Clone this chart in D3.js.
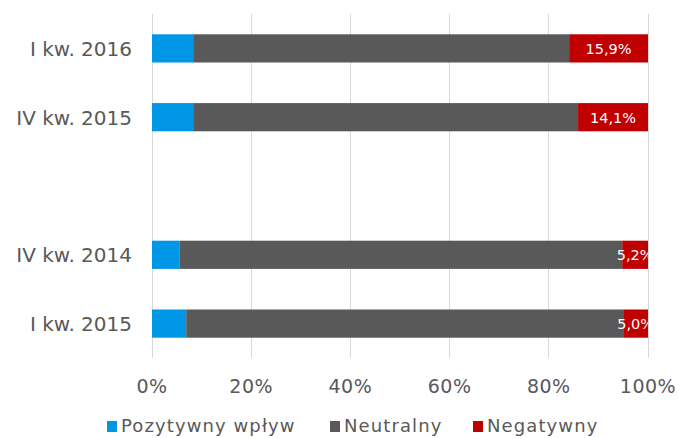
<!DOCTYPE html>
<html><head><meta charset="utf-8">
<script src="https://cdn.jsdelivr.net/npm/d3@7"></script>
<style>body{margin:0;background:#fff}</style>
</head><body>
<svg id="c" width="679" height="438"></svg>
<script>
const categories = ["I kw. 2016", "IV kw. 2015", "", "IV kw. 2014", "I kw. 2015"];
const positive = [8.3, 8.3, null, 5.6, 6.9];
const neutral  = [75.8, 77.6, null, 89.2, 88.1];
const negative = [15.9, 14.1, null, 5.2, 5.0];
const negLabels = ["15,9%", "14,1%", "", "5,2%", "5,0%"];
const seriesNames = ["Pozytywny wpływ", "Neutralny", "Negatywny"];
const colors = ["#0096e6", "#595959", "#c00000"];
const ticks = [0, 20, 40, 60, 80, 100];

const font = "'DejaVu Sans', Verdana, sans-serif";
const txt = "#595959";
const svg = d3.select("#c");
const m = {l:152, r:31, t:14, b:80};
const W = 679, H = 438;
const x = d3.scaleLinear().domain([0,100]).range([m.l, W - m.r]);
const y = d3.scaleBand().domain(d3.range(categories.length)).range([m.t, H - m.b]).paddingInner(0.59).paddingOuter(0.295);

// grid
svg.append("g").selectAll("line").data(ticks).join("line")
  .attr("x1", d=>x(d)).attr("x2", d=>x(d)).attr("y1", m.t).attr("y2", H - m.b)
  .attr("stroke", "#d9d9d9").attr("stroke-width", 1).attr("shape-rendering","crispEdges");

// tick labels
svg.append("g").selectAll("text").data(ticks).join("text")
  .attr("x", d=>x(d)).attr("y", 393).attr("text-anchor","middle")
  .attr("font-family", font).attr("font-size", 19).attr("letter-spacing", 0.5).attr("fill", txt)
  .text(d=>d+"%");

// category labels
svg.append("g").selectAll("text").data(categories).join("text")
  .attr("x", 132).attr("y", (d,i)=>y(i)+y.bandwidth()/2 + 7.5)
  .attr("text-anchor","end").attr("font-family", font).attr("font-size", 20).attr("fill", txt)
  .text(d=>d);

svg.append("clipPath").attr("id","clip").append("rect")
  .attr("x", m.l).attr("y", 0).attr("width", x(100)-m.l).attr("height", H);

const rows = categories.map((c,i)=>({i, vals:[positive[i], neutral[i], negative[i]]})).filter(r=>r.vals[0]!=null);
const segs = [];
rows.forEach(r=>{ let acc=0; r.vals.forEach((v,k)=>{ segs.push({i:r.i,k,x0:acc,x1:acc+v}); acc+=v; }); });

svg.append("g").selectAll("rect").data(segs).join("rect")
  .attr("x", d=>x(d.x0)).attr("width", d=>x(d.x1)-x(d.x0))
  .attr("y", d=>y(d.i)).attr("height", y.bandwidth())
  .attr("fill", d=>colors[d.k]);

svg.append("g").attr("clip-path","url(#clip)").selectAll("text").data(segs.filter(s=>s.k===2)).join("text")
  .attr("x", d=>(x(d.x0)+x(d.x1))/2).attr("y", d=>y(d.i)+y.bandwidth()/2 + 5.5)
  .attr("text-anchor","middle").attr("font-family", font).attr("font-size", 14.5).attr("fill", "#fff")
  .text(d=>negLabels[d.i]);

// legend
const legX = [107, 330, 473];
const lg = svg.append("g").selectAll("g").data(seriesNames).join("g")
  .attr("transform", (d,i)=>`translate(${legX[i]},432)`);
lg.append("rect").attr("x",0).attr("y",-11).attr("width",10).attr("height",11).attr("fill",(d,i)=>colors[i]);
lg.append("text").attr("x",14).attr("y",0).attr("font-family",font).attr("font-size",18).attr("letter-spacing",1.1).attr("fill",txt).text(d=>d);
</script>
</body></html>
